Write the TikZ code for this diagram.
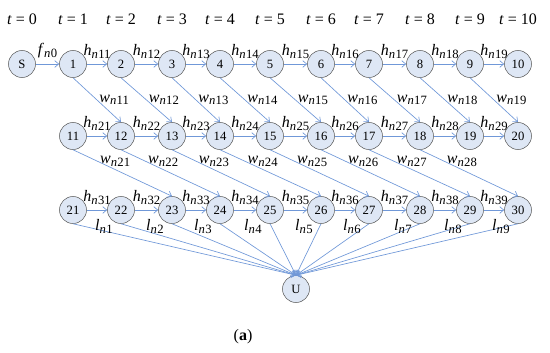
\documentclass[tikz,border=0pt]{standalone}
\usepackage{fontspec}
\setmainfont{Liberation Serif}
\usetikzlibrary{arrows.meta}

\definecolor{edgeblue}{RGB}{112,152,216}
\definecolor{statefill}{RGB}{222,231,245}

% italic letter with subscript n + index
\newcommand{\elab}[2]{\textit{#1}\raisebox{-0.35ex}{\fontsize{9.5}{10}\selectfont\textit{n}\kern0.3pt#2}}

\begin{document}
\begin{tikzpicture}[
    x=0.75pt, y=-0.75pt,
    every node/.style={font=\fontsize{12}{13}\selectfont},
    % circles of the time-expanded network
    state/.style={draw=black!65, circle, fill=statefill, minimum size=20.25pt,
                  inner sep=0pt, font=\fontsize{9.5}{10}\selectfont},
    arrow/.style={-{Straight Barb[length=3pt,width=5pt]}, draw=edgeblue, line width=0.5pt},
    hlabel/.style={above, inner sep=1pt, yshift=3pt},
    wlabel/.style={anchor=west, inner sep=1.5pt},
    llabel/.style={at start, xshift=-12.75pt, yshift=-2pt}
]
\useasboundingbox (0,0) rectangle (550,353);

% time steps
\foreach \t/\x in {0/22,1/73,2/121,3/172,4/220,5/270,6/321,7/369,8/420,9/470,10/518}
  \node (t\t) at (\x,19) {\textit{t} = \t};

\node[state] (S) at (22,64) {S};
\foreach \i/\x in {1/73,2/121,3/172,4/220,5/270,6/321,7/369,8/420,9/470,10/518} {
  \pgfmathtruncatemacro\j{\i+10}
  \pgfmathtruncatemacro\k{\i+20}
  \node[state] (n\i) at (\x,64) {\i};
  \node[state] (n\j) at (\x,136) {\j};
  \node[state] (n\k) at (\x,210) {\k};
}
\node[state] (U) at (296,289) {U};

\draw[arrow] (S) -- node[hlabel] {\elab{f}{0}} (n1);
\foreach \i in {1,...,9} {
  \pgfmathtruncatemacro\a{\i+1}
  \pgfmathtruncatemacro\b{\i+10}
  \pgfmathtruncatemacro\c{\i+11}
  \pgfmathtruncatemacro\d{\i+20}
  \pgfmathtruncatemacro\e{\i+21}
  \draw[arrow] (n\i) -- node[hlabel] {\elab{h}{1\i}} (n\a);
  \draw[arrow] (n\b) -- node[hlabel] {\elab{h}{2\i}} (n\c);
  \draw[arrow] (n\d) -- node[hlabel] {\elab{h}{3\i}} (n\e);
  \draw[arrow] (n\i.south) -- node[wlabel, midway] {\elab{w}{1\i}} (n\c.north);
}
\foreach \i in {1,...,8} {
  \pgfmathtruncatemacro\b{\i+10}
  \pgfmathtruncatemacro\f{\i+22}
  \draw[arrow] (n\b.south) -- node[wlabel, pos=0.25] {\elab{w}{2\i}} (n\f.north);
}

% all last-row states feed U
\draw[arrow] (n21.south) -- (U.north);
\foreach \i in {1,...,9} {
  \pgfmathtruncatemacro\e{\i+21}
  \draw[arrow] (n\e.south) -- node[llabel] {\elab{l}{\i}} (U.north);
}

\node (cap) at (243,337) {(\textbf{a})};

\end{tikzpicture}
\end{document}
